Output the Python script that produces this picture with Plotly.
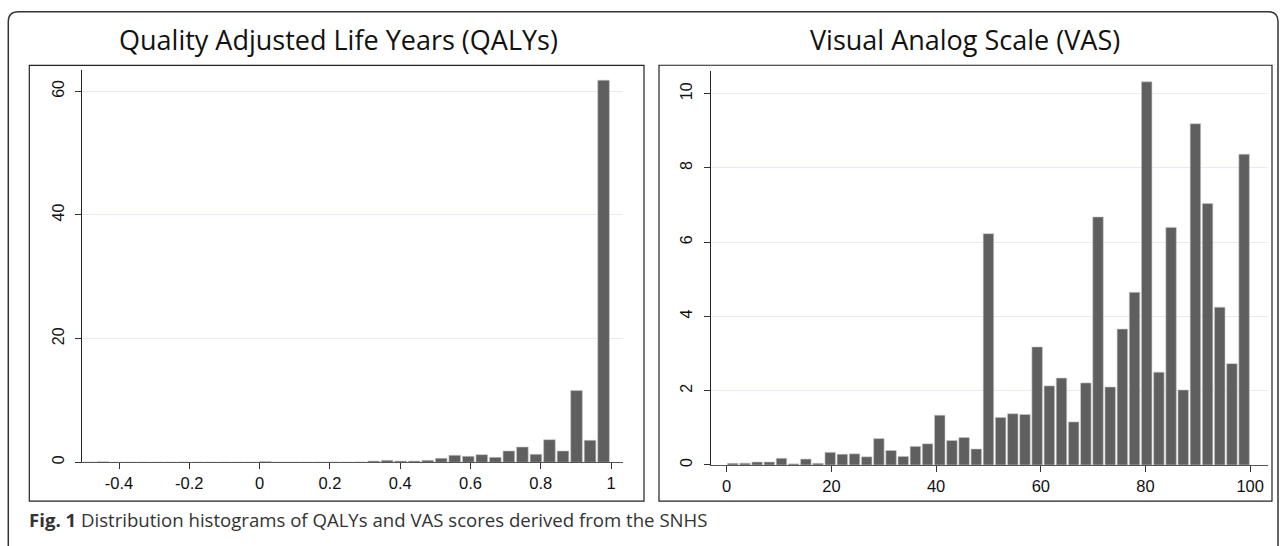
import plotly.graph_objects as go

W, H = 1281, 546

# ---------------- data ----------------
# QALYs histogram (density), 39 equal bins
qaly_bin_start = -0.5035
qaly_bin_width = 0.0385
qaly_density = [0.05, 0.1, 0, 0, 0, 0, 0, 0.05, 0, 0, 0, 0, 0, 0.12, 0, 0, 0, 0, 0.05, 0, 0.05,
                0.2, 0.32, 0.2, 0.2, 0.32, 0.65, 1.13, 0.97, 1.24, 0.8, 1.83, 2.47, 1.29,
                3.66, 1.83, 11.6, 3.55, 61.8]
qaly_xticks = [-0.4, -0.2, 0, 0.2, 0.4, 0.6, 0.8, 1]
qaly_xticktext = ["-0.4", "-0.2", "0", "0.2", "0.4", "0.6", "0.8", "1"]
qaly_yticks = [0, 20, 40, 60]

# VAS histogram (density), 43 equal bins over 0-100
vas_bin_start = 0
vas_bin_width = 100 / 43
vas_density = [0.045, 0.05, 0.08, 0.08, 0.18, 0.03, 0.16, 0.045, 0.34, 0.29,
               0.3, 0.22, 0.71, 0.39, 0.23, 0.5, 0.57, 1.34, 0.66, 0.74,
               0.43, 6.23, 1.28, 1.38, 1.36, 3.18, 2.13, 2.34, 1.16, 2.21,
               6.68, 2.10, 3.66, 4.65, 10.32, 2.5, 6.4, 2.02, 9.19, 7.04,
               4.25, 2.73, 8.37]
vas_xticks = [0, 20, 40, 60, 80, 100]
vas_yticks = [0, 2, 4, 6, 8, 10]

title_left = "Quality Adjusted Life Years (QALYs)"
title_right = "Visual Analog Scale (VAS)"
caption = "<b>Fig. 1</b> Distribution histograms of QALYs and VAS scores derived from the SNHS"

# ---------------- styling ----------------
BAR = "#5f5f5f"
BAR_EDGE = "#c6c6c6"
GRID = "#e5ecf1"
TICKFONT = "Liberation Sans"
TEXTFONT = "Open Sans"


def px(x):
    return x / W


def py(y):
    return 1 - y / H


q_centers = [qaly_bin_start + (i + 0.5) * qaly_bin_width for i in range(len(qaly_density))]
v_centers = [vas_bin_start + (i + 0.5) * vas_bin_width for i in range(len(vas_density))]

fig = go.Figure()
fig.add_trace(go.Bar(
    x=q_centers, y=qaly_density, width=[qaly_bin_width * 0.86] * len(qaly_density),
    marker=dict(color=BAR, line=dict(color=BAR_EDGE, width=0.6)),
    xaxis="x", yaxis="y", hoverinfo="x+y"))
fig.add_trace(go.Bar(
    x=v_centers, y=vas_density, width=[vas_bin_width * 0.86] * len(vas_density),
    marker=dict(color=BAR, line=dict(color=BAR_EDGE, width=0.6)),
    xaxis="x2", yaxis="y2", hoverinfo="x+y"))

common_x = dict(ticks="outside", ticklen=6, tickcolor="#333", showline=True,
                linecolor="#555", linewidth=1, showgrid=False, zeroline=False,
                tickfont=dict(family=TICKFONT, size=16.5, color="#111"), fixedrange=True)
common_y = dict(ticks="outside", ticklen=6, tickcolor="#333", showline=True,
                linecolor="#222", linewidth=1, showgrid=True, gridcolor=GRID, gridwidth=1,
                zeroline=False, tickangle=-90, ticklabelstandoff=5,
                tickfont=dict(family=TICKFONT, size=16, color="#111"), fixedrange=True)

fig.update_layout(
    width=W, height=H,
    margin=dict(l=0, r=0, t=0, b=0),
    paper_bgcolor="white", plot_bgcolor="white",
    showlegend=False,
    xaxis=dict(domain=[px(82), px(623)], range=[-0.5053, 1.034], anchor="y",
               tickvals=qaly_xticks, ticktext=qaly_xticktext, **common_x),
    yaxis=dict(domain=[py(464), py(70.7)], range=[0, 63.38], anchor="x",
               tickvals=qaly_yticks, **common_y),
    xaxis2=dict(domain=[px(710.7), px(1268)], range=[-3.056, 103.4], anchor="y2",
                tickvals=vas_xticks, **common_x),
    yaxis2=dict(domain=[py(466.7), py(71.7)], range=[0, 10.6], anchor="x2",
                tickvals=vas_yticks, **common_y),
)

# outer rounded frame and panel boxes
r = 10
x0, x1, yt, yb = 8.3, 1278, 11.7, 570
frame_path = (f"M {px(x0)},{py(yb)} L {px(x0)},{py(yt + r)} "
              f"Q {px(x0)},{py(yt)} {px(x0 + r)},{py(yt)} "
              f"L {px(x1 - r)},{py(yt)} Q {px(x1)},{py(yt)} {px(x1)},{py(yt + r)} "
              f"L {px(x1)},{py(yb)}")
shapes = [
    dict(type="path", xref="paper", yref="paper", path=frame_path,
         line=dict(color="#333", width=1.5)),
    dict(type="rect", xref="paper", yref="paper", x0=px(29.3), x1=px(644),
         y0=py(503), y1=py(65.7), line=dict(color="#222", width=1.2)),
    dict(type="rect", xref="paper", yref="paper", x0=px(659), x1=px(1272),
         y0=py(503), y1=py(65.5), line=dict(color="#222", width=1.2)),
]
fig.update_layout(shapes=shapes)

annotations = [
    dict(text=title_left, x=px(338), y=py(40), xref="paper", yref="paper",
         xanchor="center", yanchor="middle", showarrow=False,
         font=dict(family=TEXTFONT, size=27, color="#111")),
    dict(text=title_right, x=px(965.5), y=py(40), xref="paper", yref="paper",
         xanchor="center", yanchor="middle", showarrow=False,
         font=dict(family=TEXTFONT, size=27, color="#111")),
    dict(text=caption, x=px(27), y=py(521), xref="paper", yref="paper",
         xanchor="left", yanchor="middle", showarrow=False,
         font=dict(family=TEXTFONT, size=18.6, color="#333")),
]
fig.update_layout(annotations=annotations)

fig.write_html("out.html", config={"displayModeBar": False},
               post_script="document.body.style.margin='0';document.body.style.overflow='hidden';")
